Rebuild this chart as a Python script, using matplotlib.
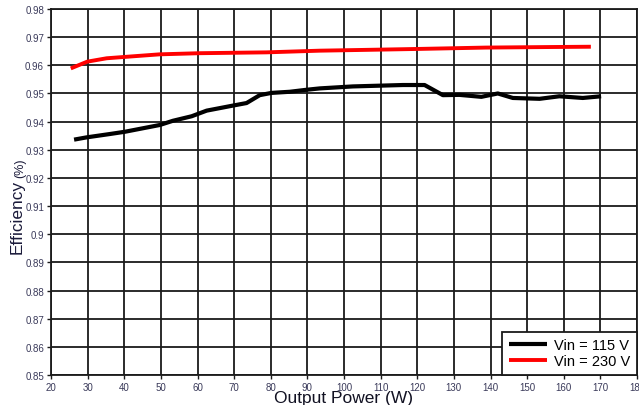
import matplotlib.pyplot as plt

plt.rcParams['font.family'] = ['Liberation Sans', 'DejaVu Sans']

# Vin = 115 V curve
p115 = [26.3, 29.7, 36.1, 40.2, 49.7, 53.3, 58.4, 62.5, 69.7, 73.4, 77.0, 80.2,
        85.2, 89.7, 93.4, 102.4, 116.1, 122.0, 127.0, 131.5, 137.5, 142.0,
        146.1, 153.4, 158.8, 165.2, 170.2]
eff115 = [0.9336, 0.9344, 0.9356, 0.9364, 0.9388, 0.9403, 0.9419, 0.9439,
          0.9457, 0.9466, 0.9494, 0.9502, 0.9506, 0.9513, 0.9518, 0.9525,
          0.9530, 0.9530, 0.9494, 0.9495, 0.9488, 0.9500, 0.9484, 0.9481,
          0.9490, 0.9484, 0.9490]

# Vin = 230 V curve
p230 = [25.4, 29.9, 35.2, 42.4, 49.7, 60.6, 78.8, 93.4, 102.4, 119.7, 138.8,
        157.0, 167.4]
eff230 = [0.9589, 0.9613, 0.9625, 0.9632, 0.9639, 0.9643, 0.9646, 0.9652,
          0.9654, 0.9658, 0.9663, 0.9665, 0.9666]

xticks = list(range(20, 181, 10))
yticks = [0.85, 0.86, 0.87, 0.88, 0.89, 0.9, 0.91, 0.92, 0.93, 0.94, 0.95,
          0.96, 0.97, 0.98]
ytick_labels = ['0.85', '0.86', '0.87', '0.88', '0.89', '0.9', '0.91', '0.92',
                '0.93', '0.94', '0.95', '0.96', '0.97', '0.98']

fig = plt.figure(figsize=(6.39, 4.06), dpi=100)
ax = fig.add_axes([51 / 639, 1 - 376 / 406, 586 / 639, 366 / 406])

ax.plot(p115, eff115, color='black', lw=3, label='Vin = 115 V', solid_capstyle='butt')
ax.plot(p230, eff230, color='#ff0000', lw=2.8, label='Vin = 230 V', solid_capstyle='butt')

ax.set_xlim(20, 180)
ax.set_ylim(0.85, 0.98)
ax.set_xticks(xticks)
ax.set_yticks(yticks)
ax.set_yticklabels(ytick_labels)
ax.grid(True, color='#1a1a1a', lw=1.3)
ax.set_axisbelow(True)
for s in ax.spines.values():
    s.set_color('#1a1a1a')
    s.set_linewidth(1.3)
ax.tick_params(labelsize=7, colors='#1a1a1a', labelcolor='#3a3a5a',
               length=3, width=1, direction='out', pad=2)

fig.text(343 / 639, 1 - 399 / 406, 'Output Power (W)', fontsize=12.5,
         ha='center', va='center', color='#111122')
fig.text(17 / 639, 1 - 217 / 406, 'Efficiency', fontsize=12.4, rotation=90,
         ha='center', va='center', color='#1a1a3a')
fig.text(20 / 639, 1 - 168 / 406, '(%)', fontsize=9, rotation=90,
         ha='center', va='center', color='#1a1a3a')

leg = ax.legend(loc='lower right', fontsize=10.5, frameon=True, fancybox=False,
                borderaxespad=0, handlelength=2.6, handletextpad=0.5,
                borderpad=0.45, labelspacing=0.15)
leg.get_frame().set_edgecolor('#1a1a1a')
leg.get_frame().set_linewidth(1.3)
leg.get_frame().set_alpha(1)

fig.savefig('out.png', dpi=100)
